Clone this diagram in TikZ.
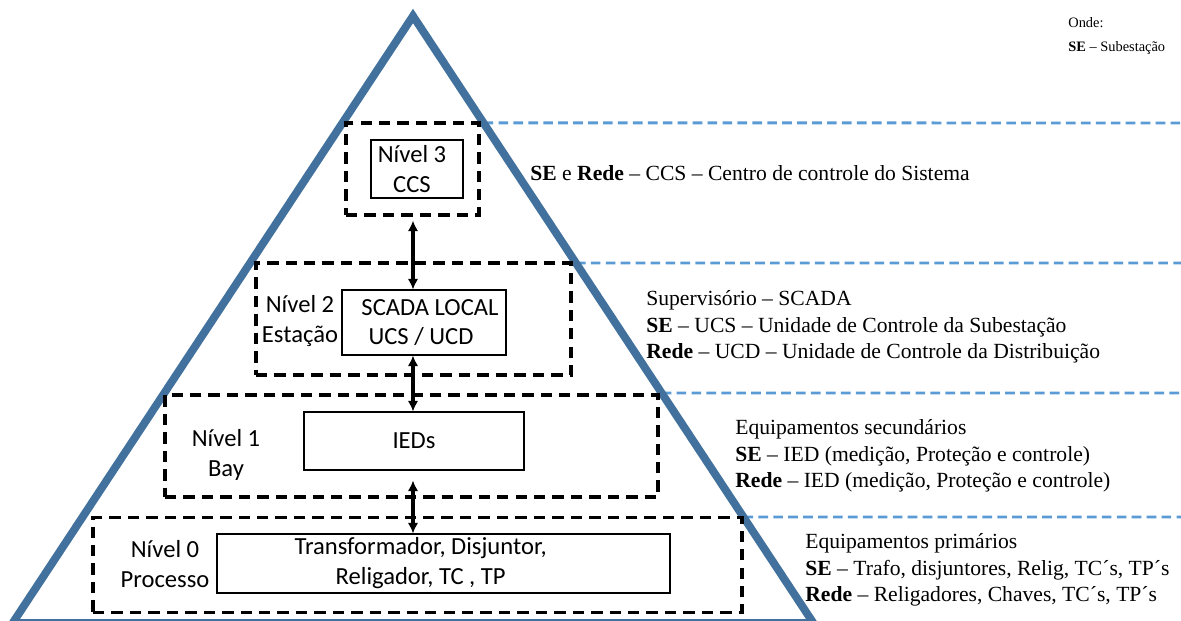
\documentclass[tikz,border=0pt]{standalone}
\usepackage{fontspec}
\setmainfont{Liberation Serif}
\newfontfamily\boxfont{Carlito}
\newfontfamily\descfont{Liberation Serif}
\usetikzlibrary{arrows.meta,calc}
\definecolor{pyramid}{RGB}{65,113,156}
\definecolor{levelline}{RGB}{91,155,213}
% lengths given in pixel units of the drawing grid
\newcommand\pxu[1]{#1*0.02cm}

\begin{document}
\begin{tikzpicture}[x=0.02cm,y=-0.02cm,
  levelbox/.style={draw=black, line width=1.9pt, dash pattern=on 6.5pt off 4pt, inner sep=0pt},
  unitbox/.style={draw=black, line width=0.6pt, fill=white, align=center, inner sep=0pt,
    font=\boxfont\fontsize{14}{17}\selectfont},
  levellabel/.style={align=center, inner sep=0pt, font=\boxfont\fontsize{14}{17}\selectfont},
  desc/.style={align=left, anchor=west, inner sep=0pt, font=\descfont\fontsize{12.3}{15.2}\selectfont},
  linkarrow/.style={line width=2.1pt, {Latex[length=6pt,width=6pt]}-{Latex[length=6pt,width=6pt]}},
  divider/.style={levelline, line width=1.7pt, dash pattern=on 5.5pt off 3pt}]

\useasboundingbox (0,0) rectangle (1181,621);
\clip (0,0) rectangle (1181,621);

% pyramid corners
\coordinate (A) at (413,16);
\coordinate (L) at (14,621);
\coordinate (R) at (812,621);

% level dividers, starting on the right side of the pyramid
\foreach \yy in {123,263,393,517} {
  \draw[divider] ($(A)!{(\yy-16)/605}!(R)$) -- (1181,\yy);
}

% pyramid
\draw[pyramid, line width=4.5pt, line join=miter] ($(A)!1.02!(L)$) -- (A) -- ($(A)!1.02!(R)$);
\draw[pyramid, line width=0.9pt] (L) ++(0,-1) -- ($(R)+(0,-1)$);

% level 3
\node[levelbox, minimum width=\pxu{133}, minimum height=\pxu{92}] (d3) at (412.5,169) {};
\node[unitbox, minimum width=\pxu{92}, minimum height=\pxu{58}] (b3) at (417,169)
  {Nível 3\hspace*{5.7pt}\\CCS\hspace*{5.7pt}};

% level 2
\node[levelbox, minimum width=\pxu{315}, minimum height=\pxu{112}] (d2) at (413.5,319) {};
\node[unitbox, minimum width=\pxu{164}, minimum height=\pxu{65}] (b2) at (424,322.5)
  {\hspace*{6.8pt}SCADA LOCAL\\UCS / UCD\hspace*{3.4pt}};
\node[levellabel] (l2) at (300,321) {Nível 2\\Estação};

% level 1
\node[levelbox, minimum width=\pxu{493}, minimum height=\pxu{102}] (d1) at (411.5,446) {};
\node[unitbox, minimum width=\pxu{220}, minimum height=\pxu{58}] (b1) at (414,441) {IEDs};
\node[levellabel] (l1) at (226,455) {Nível 1\\Bay};

% level 0
\node[levelbox, minimum width=\pxu{649}, minimum height=\pxu{95}] (d0) at (417.5,565) {};
\node[unitbox, minimum width=\pxu{453}, minimum height=\pxu{59}] (b0) at (443.5,563.5)
  {Transformador, Disjuntor,\hspace*{26pt}\\Religador, TC , TP\hspace*{26pt}};
\node[levellabel] (l0) at (165,564) {Nível 0\\Processo};

% links between levels
\coordinate (axis) at (413,0);
\draw[linkarrow] ($(d3.south -| axis)+(0,4)$) -- (b2.north -| axis);
\draw[linkarrow] (b2.south -| axis) -- (b1.north -| axis);
\draw[linkarrow] ($(b1.south -| axis)+(0,10)$) -- (b0.north -| axis);

% descriptions
\node[desc] (t3) at (530,173) {\textbf{SE} e \textbf{Rede} – CCS – Centro de controle do Sistema};
\node[desc] (t2) at (646,327) {Supervisório – SCADA\\\textbf{SE} – UCS – Unidade de Controle da Subestação\\\textbf{Rede} – UCD – Unidade de Controle da Distribuição};
\node[desc] (t1) at (735,456) {Equipamentos secundários\\\textbf{SE} – IED (medição, Proteção e controle)\\\textbf{Rede} – IED (medição, Proteção e controle)};
\node[desc] (t0) at (805,570) {Equipamentos primários\\\textbf{SE} – Trafo, disjuntores, Relig, TC´s, TP´s\\\textbf{Rede} – Religadores, Chaves, TC´s, TP´s};
\node[desc, font=\descfont\fontsize{8.2}{13.5}\selectfont] (note) at (1068,36) {Onde:\\\textbf{SE} – Subestação};
\end{tikzpicture}
\end{document}
